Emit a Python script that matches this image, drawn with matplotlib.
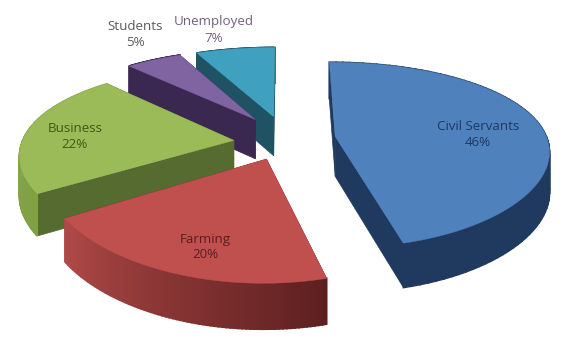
import matplotlib
matplotlib.use('Agg')
import matplotlib.pyplot as plt
import numpy as np

categories = ['Civil Servants', 'Farming', 'Business', 'Students', 'Unemployed']
shares = [46, 20, 22, 5, 7]
top_colors = ['#4F81BD', '#C0504D', '#9BBB59', '#8064A2', '#3FA0C0']
wall_colors = ['#1F3A5E', '#6E2A2A', '#556B2F', '#3A2850', '#1F5364']
rim_start = ['#1F3A5E', '#5E1F20', '#7FA043', '#3A2850', '#1F5364']
rim_end = ['#1F3A5E', '#B04A48', '#8AAC4C', '#3A2850', '#1F5364']
text_colors = ['#1F3864', '#5A1E1E', '#3F5A12', '#5A5A5A', '#75607F']

# pixel placement of the "3d" view
CX, CY = 285, 139
RX, RY = 212, 90
TILT_X, TILT_Y = 0.14, 0.20
DEPTH = 40
EXPLODE = 0.23

# small per-slice shifts in pixels, the projection alone is a few px off
nudge_x = [2, 0, -3, -3, -1]
nudge_y = [0, 0, 4, -3, -3]

# label centres, in pixels
label_x = [478, 205, 75, 135, 214]
label_y = [134, 247, 136, 35, 30]


def project(x, y, drop=0):
  return (CX + RX * x / (1 + TILT_X * y),
          CY - RY * y / (1 + TILT_Y * y) + drop / np.sqrt(1 + TILT_Y * y))


def mix(c1, c2, t):
  a = np.array(matplotlib.colors.to_rgb(c1))
  b = np.array(matplotlib.colors.to_rgb(c2))
  return tuple(a + (b - a) * t)


fig = plt.figure(figsize=(5.73, 3.54), dpi=100)
ax = fig.add_axes([0, 0, 1, 1])
ax.set_xlim(0, 573)
ax.set_ylim(354, 0)
ax.axis('off')

edges = np.cumsum([0] + shares) / 100 * 2 * np.pi

# back to front, later slices cover earlier ones
for order, i in enumerate([4, 3, 2, 0, 1]):
  t0, t1 = edges[i], edges[i + 1]
  mid = (t0 + t1) / 2
  ox, oy = EXPLODE * np.sin(mid), EXPLODE * np.cos(mid)
  theta = np.linspace(t0, t1, 80)
  arc_x = ox + np.sin(theta)
  arc_y = oy + np.cos(theta)
  dx, dy = nudge_x[i], nudge_y[i]

  # radial walls
  for t in (t0, t1):
    ex, ey = ox + np.sin(t), oy + np.cos(t)
    px = [project(ox, oy)[0], project(ex, ey)[0], project(ex, ey, DEPTH)[0], project(ox, oy, DEPTH)[0]]
    py = [project(ox, oy)[1], project(ex, ey)[1], project(ex, ey, DEPTH)[1], project(ox, oy, DEPTH)[1]]
    ax.fill(np.array(px) + dx, np.array(py) + dy, color=wall_colors[i], lw=0.5, zorder=order)

  # rim as thin strips so it can shade along the arc
  for j in range(len(theta) - 1):
    a = project(arc_x[j:j + 2], arc_y[j:j + 2])
    b = project(arc_x[j:j + 2], arc_y[j:j + 2], DEPTH)
    c = mix(rim_start[i], rim_end[i], j / (len(theta) - 2))
    ax.fill(np.r_[a[0], b[0][::-1]] + dx, np.r_[a[1], b[1][::-1]] + dy, color=c, lw=1.2, zorder=order)

  # top face
  tx, ty = project(np.r_[ox, arc_x], np.r_[oy, arc_y])
  ax.fill(tx + dx, ty + dy, color=top_colors[i], lw=0.3, zorder=order)

for name, share, x, y, c in zip(categories, shares, label_x, label_y, text_colors):
  ax.text(x, y, f'{name}\n{share}%', ha='center', va='center', color=c,
          fontsize=9.6, family='Open Sans', linespacing=1.3, zorder=10)

fig.savefig('out.png', dpi=100)
